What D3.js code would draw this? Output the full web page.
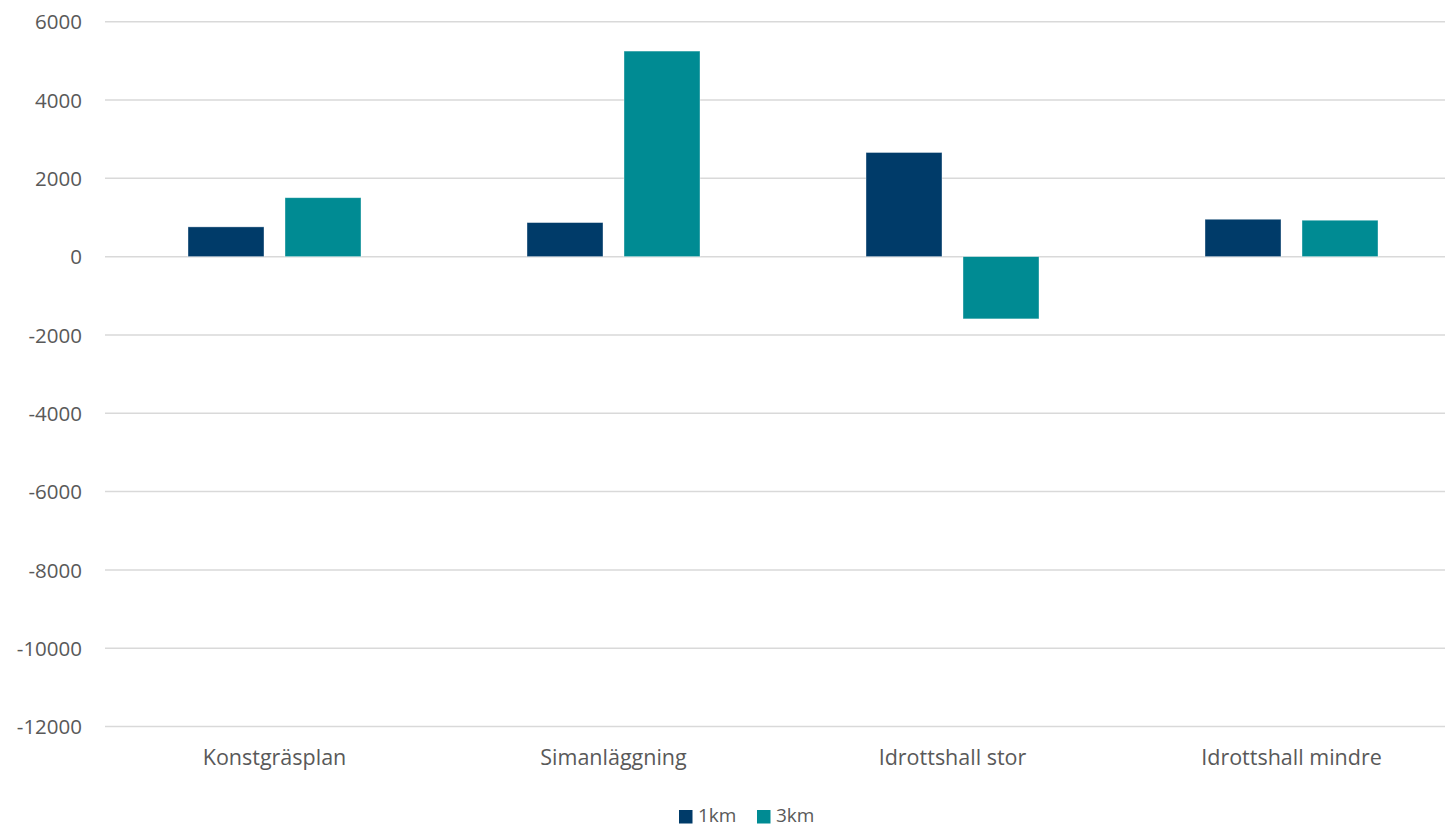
<!DOCTYPE html>
<html><head><meta charset="utf-8">
<script src="https://cdn.jsdelivr.net/npm/d3@7"></script>
<style>
body{margin:0;background:#fff;}
text{font-family:"Open Sans",sans-serif;fill:#595959;}
</style></head>
<body>
<svg id="c" width="1445" height="827"></svg>
<script>
const categories = ["Konstgräsplan","Simanläggning","Idrottshall stor","Idrottshall mindre"];
const series = ["1km","3km"];
const values1km = [760, 870, 2660, 955];
const values3km = [1505, 5250, -1590, 930];
const yTicks = [6000,4000,2000,0,-2000,-4000,-6000,-8000,-10000,-12000];
const colors = ["#003B69","#008B93"];

(function(){
const svg = d3.select("#c");
const pLeft = 105, pRight = 1461, pTop = 21.7, pBottom = 726.5;
const y = d3.scaleLinear().domain([-12000,6000]).range([pBottom, pTop]);
const x0 = d3.scaleBand().domain(categories).range([pLeft, pRight]).padding(0);
const groupW = 173;
const x1 = d3.scaleBand().domain(series)
  .range([x0.bandwidth()/2 - groupW/2, x0.bandwidth()/2 + groupW/2])
  .paddingInner(0.2165).paddingOuter(0);

// gridlines
svg.append("g").selectAll("line").data(yTicks).join("line")
  .attr("x1", pLeft).attr("x2", pRight)
  .attr("y1", d=>y(d)).attr("y2", d=>y(d))
  .attr("stroke","#d9d9d9").attr("stroke-width",1.5);

// y labels
const yAxis = d3.axisLeft(y).tickValues(yTicks).tickSize(0).tickPadding(0).tickFormat(d=>String(d));
const ya = svg.append("g").attr("transform","translate(82,0)").call(yAxis);
ya.select(".domain").remove();
ya.selectAll("text").style("font-size","20.5px").attr("fill","#595959").attr("dy","0.35em");

// bars
const data = categories.map((c,i)=>({cat:c, vals:[{s:"1km",v:values1km[i]},{s:"3km",v:values3km[i]}]}));
const g = svg.append("g").selectAll("g").data(data).join("g")
  .attr("transform", d=>`translate(${x0(d.cat)},0)`);
g.selectAll("rect").data(d=>d.vals).join("rect")
  .attr("x", d=>x1(d.s)).attr("width", x1.bandwidth())
  .attr("y", d=>y(Math.max(0,d.v)))
  .attr("height", d=>Math.abs(y(d.v)-y(0)))
  .attr("fill", d=>colors[series.indexOf(d.s)])
  .attr("stroke","#ffffff").attr("stroke-opacity",0.5).attr("stroke-width",0.75);

// x labels
const xAxis = d3.axisBottom(x0).tickSize(0).tickPadding(0);
const xa = svg.append("g").attr("transform","translate(0,757.5)").call(xAxis);
xa.select(".domain").remove();
xa.selectAll("text").style("font-size","21.5px").attr("fill","#595959").attr("dy","0.35em");

// legend
const lg = svg.append("g");
const legendX = [679, 757];
series.forEach((s,i)=>{
  lg.append("rect").attr("x",legendX[i]).attr("y",810).attr("width",13.5).attr("height",13.5).attr("fill",colors[i]);
  lg.append("text").attr("x",legendX[i]+19).attr("y",815.5).attr("dy","0.35em").style("font-size","19px").text(s);
});
})();
</script>
</body></html>
